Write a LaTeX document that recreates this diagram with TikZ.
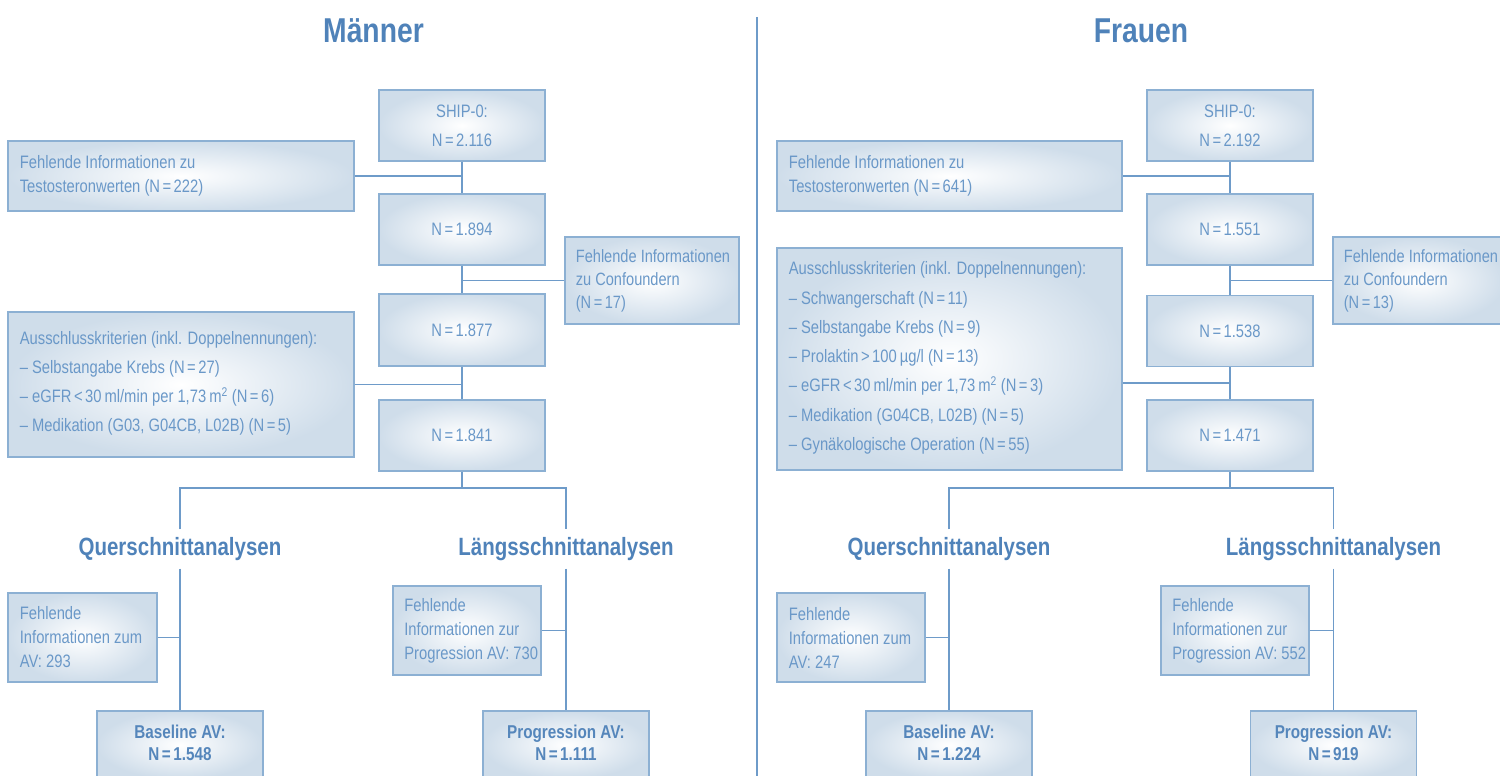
\documentclass[tikz,border=0pt]{standalone}
\usepackage{fontspec}
\setmainfont[FakeStretch=0.82]{Liberation Sans}
\usetikzlibrary{calc}
\definecolor{txtblue}{HTML}{6A98C8}
\definecolor{boldblue}{HTML}{5586BB}
\definecolor{titleblue}{HTML}{4F82B9}
\definecolor{lineblue}{HTML}{6E9BC9}
\definecolor{boxborder}{HTML}{8CB0D3}
\definecolor{boxfill}{HTML}{CFDDEA}
\newcommand{\Eq}{\kern2.5pt=\kern2.5pt}
\newcommand{\Lt}{\kern2.5pt<\kern2.5pt}
\newcommand{\Gt}{\kern2.5pt>\kern2.5pt}
\begin{document}
\begin{tikzpicture}[x=1pt,y=-1pt,
  box/.style={draw=boxborder, line width=1.7pt, inner color=white, outer color=boxfill, inner sep=0pt},
  ctext/.style={align=center, text=txtblue, font=\fontsize{18}{29}\selectfont, inner sep=0pt},
  ltext/.style={anchor=west, align=left, text=txtblue, font=\fontsize{18}{24}\selectfont, inner sep=0pt},
  btext/.style={align=center, text=boldblue, font=\fontsize{18.6}{22}\selectfont\bfseries, inner sep=0pt},
  head/.style={font=\fontsize{25}{28}\selectfont\bfseries, text=titleblue, minimum height=39pt, inner sep=0pt},
  title/.style={font=\fontsize{34.5}{40}\selectfont\bfseries, text=titleblue, inner sep=0pt},
  conn/.style={draw=lineblue, line width=1.8pt}]
\useasboundingbox (0,0) rectangle (1500,776);

% divider
\draw[draw=lineblue, line width=2.3pt] (757,17) -- (757,776);

% titles
\node[title] (tm) at (373.5,31) {Männer};
\node[title] (tf) at (1141,31) {Frauen};

%%%%%%%%%%%%%% LEFT: Männer
\node[box, minimum width=166pt, minimum height=71pt] (ship1) at (462,125.5) {};
\node[ctext] (ship1t) at (ship1) {SHIP-0:\\N\Eq2.116};
\node[box, minimum width=346pt, minimum height=70pt] (test1) at (181,176) {};
\node[ltext] (test1t) at ($(test1.west)+(12.5,0)$) {Fehlende Informationen zu\\Testosteronwerten (N\Eq222)};
\node[box, minimum width=166pt, minimum height=71pt] (n1894) at (462,229.5) {};
\node[ctext] (n1894t) at (n1894) {N\Eq1.894};
\node[box, minimum width=174pt, minimum height=87pt] (conf1) at (652,280.5) {};
\node[ltext, font=\fontsize{17.8}{23}\selectfont] (conf1t) at ($(conf1.west)+(11.5,0)$) {Fehlende Informationen\\zu Confoundern\\(N\Eq17)};
\node[box, minimum width=166pt, minimum height=72pt] (n1877) at (462,330) {};
\node[ctext] (n1877t) at (n1877) {N\Eq1.877};
\node[box, minimum width=346pt, minimum height=145pt] (excl1) at (181,384.5) {};
\node[ltext, font=\fontsize{18}{29}\selectfont] (excl1t) at ($(excl1.west)+(12.5,-1)$) {Ausschlusskriterien (inkl. Doppelnennungen):\\– Selbstangabe Krebs (N\Eq27)\\– eGFR\Lt30\,ml/min per 1,73\,m\textsuperscript{2} (N\Eq6)\\– Medikation (G03, G04CB, L02B) (N\Eq5)};
\node[box, minimum width=166pt, minimum height=71pt] (n1841) at (462,435.5) {};
\node[ctext] (n1841t) at (n1841) {N\Eq1.841};

\coordinate (sp1) at (462,488);
\node[head] (qh1) at (180,549) {Querschnittanalysen};
\node[head] (lh1) at (566,549) {Längsschnittanalysen};

\node[box, minimum width=149pt, minimum height=89pt] (miss1) at (82.5,637.5) {};
\node[ltext] (miss1t) at ($(miss1.west)+(12.5,0)$) {Fehlende\\Informationen zum\\AV: 293};
\node[box, minimum width=148pt, minimum height=89pt] (missp1) at (467,630.5) {};
\node[ltext] (missp1t) at ($(missp1.west)+(12,0)$) {Fehlende\\Informationen zur\\Progression AV: 730};
\node[box, minimum width=166pt, minimum height=68pt] (base1) at (180,745) {};
\node[btext] (base1t) at (180,743) {Baseline AV:\\N\Eq1.548};
\node[box, minimum width=166pt, minimum height=68pt] (prog1) at (566,745) {};
\node[btext] (prog1t) at (566,743) {Progression AV:\\N\Eq1.111};

\draw[conn] (ship1) -- (n1894);
\draw[conn] (test1.east) -- (test1.east -| ship1.south);
\draw[conn] (n1894) -- (n1877);
\draw[conn] (conf1.west) -- (conf1.west -| n1894.south);
\draw[conn] (n1877) -- (n1841);
\draw[conn] (excl1.east) -- (excl1.east -| n1877.south);
\draw[conn] (n1841.south) -- (sp1);
\draw[conn] (qh1.north) |- (sp1) -| (lh1.north);
\draw[conn] (qh1.south) -- (base1.north);
\draw[conn] (miss1.east) -- (miss1.east -| qh1.south);
\draw[conn] (lh1.south) -- (prog1.north);
\draw[conn] (missp1.east) -- (missp1.east -| lh1.south);

%%%%%%%%%%%%%% RIGHT: Frauen
\node[box, minimum width=166pt, minimum height=71pt] (ship2) at (1230,125.5) {};
\node[ctext] (ship2t) at (ship2) {SHIP-0:\\N\Eq2.192};
\node[box, minimum width=345pt, minimum height=70pt] (test2) at (949.5,176) {};
\node[ltext] (test2t) at ($(test2.west)+(12.5,0)$) {Fehlende Informationen zu\\Testosteronwerten (N\Eq641)};
\node[box, minimum width=166pt, minimum height=71pt] (n1551) at (1230,229.5) {};
\node[ctext] (n1551t) at (n1551) {N\Eq1.551};
\node[box, minimum width=172pt, minimum height=87pt] (conf2) at (1419,280.5) {};
\node[ltext, font=\fontsize{17.8}{23}\selectfont] (conf2t) at ($(conf2.west)+(11.5,0)$) {Fehlende Informationen\\zu Confoundern\\(N\Eq13)};
\node[box, minimum width=166pt, minimum height=71pt] (n1538) at (1230,331) {};
\node[ctext] (n1538t) at (n1538) {N\Eq1.538};
\node[box, minimum width=345pt, minimum height=222pt] (excl2) at (949.5,359) {};
\node[ltext, font=\fontsize{18}{29.3}\selectfont] (excl2t) at ($(excl2.west)+(12.5,-1)$) {Ausschlusskriterien (inkl. Doppelnennungen):\\– Schwangerschaft (N\Eq11)\\– Selbstangabe Krebs (N\Eq9)\\– Prolaktin\Gt100\,µg/l (N\Eq13)\\– eGFR\Lt30\,ml/min per 1,73\,m\textsuperscript{2} (N\Eq3)\\– Medikation (G04CB, L02B) (N\Eq5)\\– Gynäkologische Operation (N\Eq55)};
\node[box, minimum width=166pt, minimum height=71pt] (n1471) at (1230,435.5) {};
\node[ctext] (n1471t) at (n1471) {N\Eq1.471};

\coordinate (sp2) at (1230,488);
\node[head] (qh2) at (949,549) {Querschnittanalysen};
\node[head] (lh2) at (1333.5,549) {Längsschnittanalysen};

\node[box, minimum width=148pt, minimum height=89pt] (miss2) at (851,637.5) {};
\node[ltext] (miss2t) at ($(miss2.west)+(12.5,0)$) {Fehlende\\Informationen zum\\AV: 247};
\node[box, minimum width=148pt, minimum height=89pt] (missp2) at (1235,630.5) {};
\node[ltext] (missp2t) at ($(missp2.west)+(12,0)$) {Fehlende\\Informationen zur\\Progression AV: 552};
\node[box, minimum width=166pt, minimum height=68pt] (base2) at (949,745) {};
\node[btext] (base2t) at (949,743) {Baseline AV:\\N\Eq1.224};
\node[box, minimum width=166pt, minimum height=68pt] (prog2) at (1333.5,745) {};
\node[btext] (prog2t) at (1333.5,743) {Progression AV:\\N\Eq919};

\draw[conn] (ship2) -- (n1551);
\draw[conn] (test2.east) -- (test2.east -| ship2.south);
\draw[conn] (n1551) -- (n1538);
\draw[conn] (conf2.west) -- (conf2.west -| n1551.south);
\draw[conn] (n1538) -- (n1471);
\draw[conn] (excl2.east |- 0,383) -- (1230,383);
\draw[conn] (n1471.south) -- (sp2);
\draw[conn] (qh2.north) |- (sp2) -| (lh2.north);
\draw[conn] (qh2.south) -- (base2.north);
\draw[conn] (miss2.east) -- (miss2.east -| qh2.south);
\draw[conn] (lh2.south) -- (prog2.north);
\draw[conn] (missp2.east) -- (missp2.east -| lh2.south);
\end{tikzpicture}
\end{document}
